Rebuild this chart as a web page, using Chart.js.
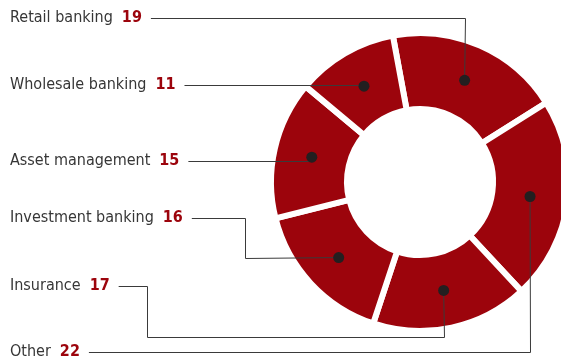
<!DOCTYPE html>
<html>
<head>
<meta charset="utf-8">
<script src="https://cdn.jsdelivr.net/npm/chart.js@4"></script>
<style>
  html, body { margin: 0; padding: 0; background: #fff; overflow: hidden; }
  #wrap { position: relative; width: 600px; height: 361px; }
</style>
</head>
<body>
<div id="wrap"><canvas id="ringChart"></canvas></div>
<script>
// segments, clockwise from the top
const categories = ["Retail banking", "Other", "Insurance", "Investment banking", "Asset management", "Wholesale banking"];
const shares = [19, 22, 17, 16, 15, 11];

// order the labels are listed down the left side
const labelOrder = ["Retail banking", "Wholesale banking", "Asset management", "Investment banking", "Insurance", "Other"];
const labelY = [18, 85, 161, 218, 286, 352];
// leader line elbows (x, then optional y) for labels that need routing
const elbows = {
  "Investment banking": { x: 245 },
  "Insurance": { x: 147, y: 337 }
};

const RED = '#9c040c';
const TEXT = '#363636';
const FONT = '"DejaVu Sans Condensed", "DejaVu Sans", sans-serif';
const FONT_SIZE = 16;

const leaderLabels = {
  id: 'leaderLabels',
  afterDraw(chart) {
    const ctx = chart.ctx;
    const arcs = chart.getDatasetMeta(0).data;
    ctx.save();
    ctx.textBaseline = 'middle';
    labelOrder.forEach((name, i) => {
      const y = labelY[i];
      const idx = categories.indexOf(name);
      const dot = arcs[idx].tooltipPosition();

      ctx.font = FONT_SIZE + 'px ' + FONT;
      ctx.fillStyle = TEXT;
      ctx.fillText(name, 10, y);
      let x = 10 + ctx.measureText(name).width + 9;
      ctx.font = 'bold ' + FONT_SIZE + 'px ' + FONT;
      ctx.fillStyle = RED;
      const num = String(shares[idx]);
      ctx.fillText(num, x, y);
      x += ctx.measureText(num).width + 9;

      // leader line
      const yy = Math.round(y) + 0.5;
      const pts = [[x, yy]];
      const e = elbows[name];
      if (e) {
        pts.push([e.x + 0.5, yy]);
        if (e.y !== undefined) {
          pts.push([e.x + 0.5, e.y + 0.5]);
          pts.push([Math.round(dot.x) + 0.5, e.y + 0.5]);
        } else {
          pts.push([e.x + 0.5, Math.round(dot.y) + 0.5]);
        }
      } else {
        pts.push([Math.round(dot.x) + 0.5, yy]);
      }
      pts.push([dot.x, dot.y]);
      ctx.strokeStyle = '#3a3a3a';
      ctx.lineWidth = 1;
      ctx.beginPath();
      pts.forEach((p, k) => k ? ctx.lineTo(p[0], p[1]) : ctx.moveTo(p[0], p[1]));
      ctx.stroke();

      ctx.fillStyle = '#231f20';
      ctx.beginPath();
      ctx.arc(dot.x, dot.y, 5.5, 0, Math.PI * 2);
      ctx.fill();
    });
    ctx.restore();
  }
};

new Chart(document.getElementById('ringChart'), {
  type: 'doughnut',
  data: {
    labels: categories,
    datasets: [{
      data: shares,
      backgroundColor: RED,
      borderColor: '#ffffff',
      borderWidth: 6,
      hoverOffset: 0
    }]
  },
  options: {
    responsive: true,
    maintainAspectRatio: false,
    animation: false,
    rotation: -10.5,
    radius: 149,
    cutout: '49%',
    layout: { padding: { left: 240, right: 0, top: 3, bottom: 0 } },
    plugins: {
      legend: { display: false },
      tooltip: { enabled: false }
    }
  },
  plugins: [leaderLabels]
});
</script>
</body>
</html>
